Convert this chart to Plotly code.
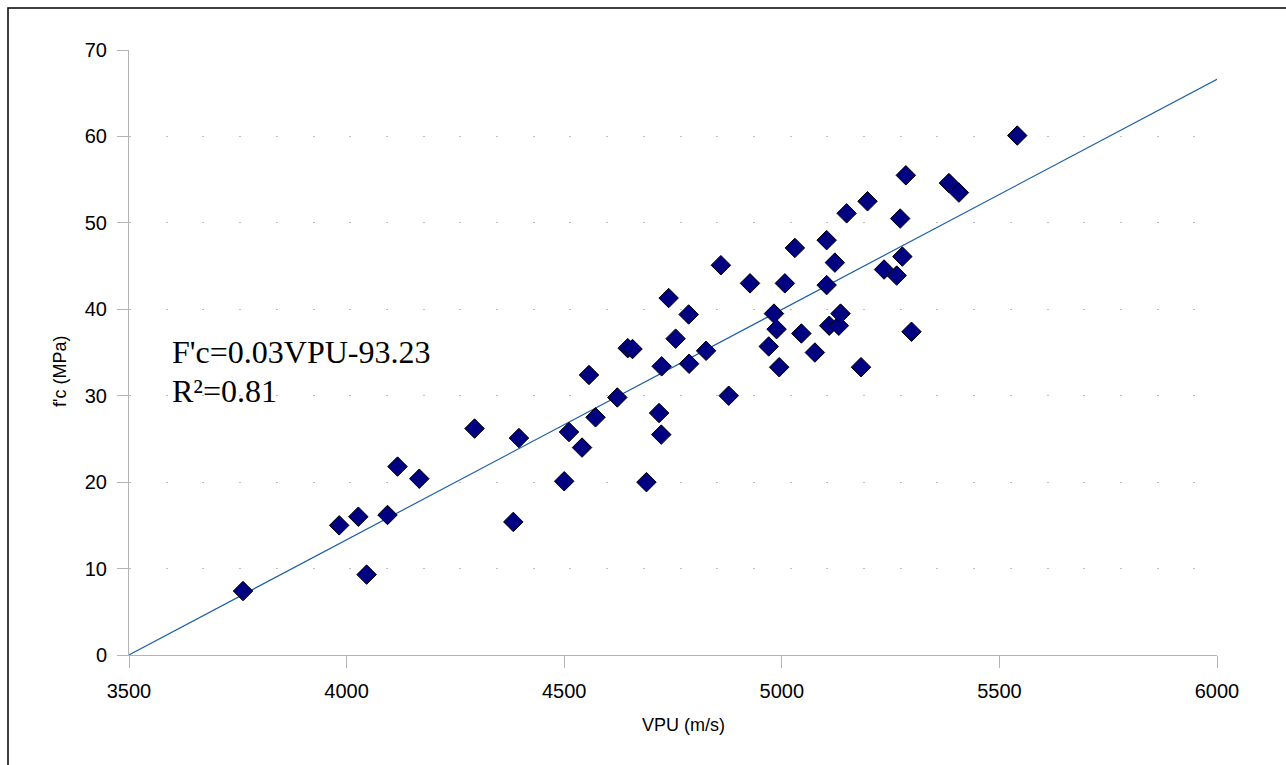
import plotly.graph_objects as go

# Ultrasonic pulse velocity (m/s) vs. compressive strength f'c (MPa)
vpu = [3762, 3983, 4027, 4046, 4094, 4117, 4167, 4294, 4383, 4396,
       4500, 4511, 4541, 4557, 4572, 4622, 4646, 4657, 4689, 4718,
       4723, 4724, 4740, 4756, 4786, 4787, 4826, 4860, 4878, 4927,
       4970, 4982, 4988, 4994, 5007, 5030, 5045, 5076, 5103, 5103,
       5109, 5122, 5131, 5135, 5149, 5182, 5197, 5235, 5264, 5272,
       5277, 5285, 5298, 5384, 5407, 5541]
fc = [7.4, 15.0, 16.0, 9.3, 16.2, 21.8, 20.4, 26.2, 15.4, 25.1,
      20.1, 25.8, 24.0, 32.4, 27.5, 29.8, 35.5, 35.4, 20.0, 28.0,
      25.5, 33.4, 41.3, 36.6, 39.4, 33.7, 35.2, 45.1, 30.0, 43.0,
      35.7, 39.5, 37.7, 33.3, 43.0, 47.1, 37.2, 35.0, 48.0, 42.8,
      38.1, 45.4, 38.1, 39.5, 51.1, 33.3, 52.5, 44.6, 43.9, 50.5,
      46.1, 55.5, 37.4, 54.6, 53.5, 60.1]

# Linear trendline coefficients
trend_slope = 0.02664
trend_intercept = -93.23
trend_x = [3500, 6000]
trend_y = [trend_slope * x + trend_intercept for x in trend_x]

x_ticks = [3500, 4000, 4500, 5000, 5500, 6000]
y_ticks = [0, 10, 20, 30, 40, 50, 60, 70]

equation_line = "F'c=0.03VPU-93.23"
r2_line = "R\u00b2=0.81"

fig = go.Figure()

fig.add_trace(go.Scatter(
    x=trend_x, y=trend_y, mode="lines",
    line=dict(color="#1f5fa6", width=1.2),
    hoverinfo="skip", showlegend=False,
))

fig.add_trace(go.Scatter(
    x=vpu, y=fc, mode="markers",
    marker=dict(symbol="diamond", size=15, color="#000080",
                line=dict(color="#000000", width=1)),
    showlegend=False,
))

axis_font = dict(family="Liberation Sans, Arial, sans-serif", size=20, color="#000000")
title_font = dict(family="Liberation Sans, Arial, sans-serif", size=18, color="#000000")
eq_font = dict(family="Liberation Serif, Times New Roman, serif", size=32, color="#000000")

fig.update_xaxes(
    range=[3500, 6000], tickvals=x_ticks, ticktext=[str(v) for v in x_ticks],
    showgrid=False, zeroline=False,
    showline=True, linecolor="#b4b4b4", linewidth=1,
    ticks="outside", ticklen=12, tickcolor="#b4b4b4", tickwidth=1,
    tickfont=axis_font, ticklabelstandoff=6,
)
fig.update_yaxes(
    range=[0, 70], tickvals=y_ticks, ticktext=[str(v) for v in y_ticks],
    showgrid=True, gridcolor="#bcbcbc", gridwidth=1, griddash="2px,34.7px",
    zeroline=False,
    showline=True, linecolor="#b4b4b4", linewidth=1,
    ticks="outside", ticklen=11, tickcolor="#b4b4b4", tickwidth=1,
    tickfont=axis_font, ticklabelstandoff=6,
)

# Axis titles
fig.add_annotation(
    text="VPU (m/s)", xref="paper", yref="paper",
    x=(683 - 129) / 1088, y=-(725 - 655) / 605,
    xanchor="center", yanchor="middle", showarrow=False, font=title_font,
)
fig.add_annotation(
    text="f'c (MPa)", xref="paper", yref="paper",
    x=-(129 - 60) / 1088, y=(655 - 372) / 605, textangle=-90,
    xanchor="center", yanchor="middle", showarrow=False, font=title_font,
)

# Regression equation and coefficient of determination
fig.add_annotation(
    text=equation_line, xref="paper", yref="paper",
    x=(170 - 129) / 1088, y=(655 - 352) / 605,
    xanchor="left", yanchor="middle", align="left", showarrow=False, font=eq_font,
)
fig.add_annotation(
    text=r2_line, xref="paper", yref="paper",
    x=(170 - 129) / 1088, y=(655 - 391) / 605,
    xanchor="left", yanchor="middle", align="left", showarrow=False, font=eq_font,
)

# Outer chart frame
fig.add_shape(
    type="rect", xref="paper", yref="paper",
    x0=-(129 - 8) / 1088, x1=1.3, y0=-0.4, y1=(655 - 8) / 605,
    line=dict(color="#000000", width=1.5), fillcolor="rgba(0,0,0,0)", layer="below",
)

fig.update_layout(
    width=1286, height=765,
    margin=dict(l=129, r=69, t=50, b=110),
    paper_bgcolor="#ffffff", plot_bgcolor="#ffffff",
    showlegend=False,
)

fig.write_html("out.html")
